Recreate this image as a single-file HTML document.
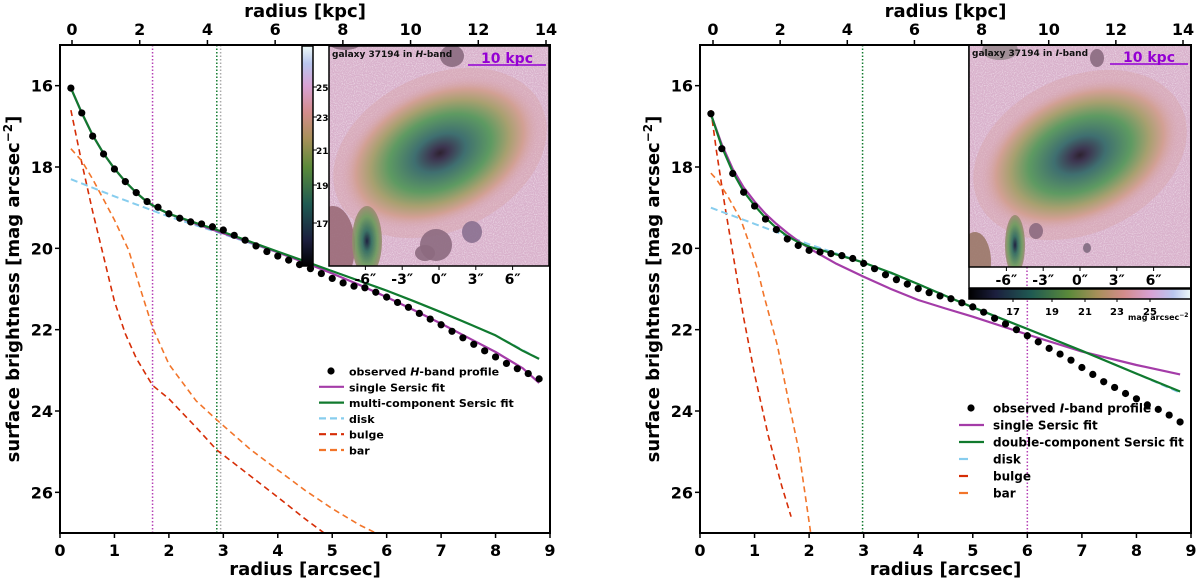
<!DOCTYPE html>
<html><head><meta charset="utf-8"><style>
body{margin:0;background:#fff}
svg{display:block;font-family:"DejaVu Sans","Liberation Sans",sans-serif;font-weight:bold}
</style></head><body>
<svg id="fig" width="1200" height="580" viewBox="0 0 1200 580" xmlns="http://www.w3.org/2000/svg">
<defs>
<linearGradient id="cbV" x1="0" y1="1" x2="0" y2="0">
<stop offset="0" stop-color="#000"/><stop offset="0.12" stop-color="#1c1f3e"/><stop offset="0.28" stop-color="#1f5a52"/><stop offset="0.45" stop-color="#5b8a3a"/><stop offset="0.58" stop-color="#a8905a"/><stop offset="0.7" stop-color="#d48c8c"/><stop offset="0.82" stop-color="#d8a2d4"/><stop offset="0.92" stop-color="#b9c6ee"/><stop offset="1" stop-color="#eefaf8"/></linearGradient>
<linearGradient id="cbH" x1="0" y1="0" x2="1" y2="0">
<stop offset="0" stop-color="#000"/><stop offset="0.12" stop-color="#1c1f3e"/><stop offset="0.28" stop-color="#1f5a52"/><stop offset="0.45" stop-color="#5b8a3a"/><stop offset="0.58" stop-color="#a8905a"/><stop offset="0.7" stop-color="#d48c8c"/><stop offset="0.82" stop-color="#d8a2d4"/><stop offset="0.92" stop-color="#b9c6ee"/><stop offset="1" stop-color="#eefaf8"/></linearGradient>
<radialGradient id="gal">
<stop offset="0" stop-color="#2e2230"/><stop offset="0.08" stop-color="#3d3550"/><stop offset="0.25" stop-color="#3f6f70"/><stop offset="0.5" stop-color="#5e9a62"/><stop offset="0.68" stop-color="#a8a070"/><stop offset="0.82" stop-color="#d2a094"/><stop offset="1" stop-color="#d8aac0" stop-opacity="0"/></radialGradient>
<radialGradient id="blob"><stop offset="0" stop-color="#0a1030"/><stop offset="0.3" stop-color="#2a6a5a"/><stop offset="0.7" stop-color="#6a9a5a"/><stop offset="1" stop-color="#9a8a70"/></radialGradient>
<filter id="noise" x="0" y="0" width="100%" height="100%"><feTurbulence type="fractalNoise" baseFrequency="0.9" numOctaves="1" seed="3"/><feColorMatrix values="0 0 0 0 1  0 0 0 0 1  0 0 0 0 1  0 0 0 1.6 -0.7"/></filter>
<clipPath id="clipL"><rect x="60" y="45" width="490" height="488"/></clipPath>
<clipPath id="clipR"><rect x="700" y="45" width="491" height="488"/></clipPath>
<clipPath id="imgL"><rect x="329" y="46" width="220" height="220"/></clipPath>
<clipPath id="imgR"><rect x="969" y="45" width="222" height="222"/></clipPath>
</defs>
<g id="root"></g>
</svg>
<script>
// ---- Left panel (H-band) data ----
const hObsR=[0.2,0.4,0.6,0.8,1.0,1.2,1.4,1.6,1.8,2.0,2.2,2.4,2.6,2.8,3.0,3.2,3.4,3.6,3.8,4.0,4.2,4.4,4.6,4.8,5.0,5.2,5.4,5.6,5.8,6.0,6.2,6.4,6.6,6.8,7.0,7.2,7.4,7.6,7.8,8.0,8.2,8.4,8.6,8.8];
const hObsMu=[16.06,16.67,17.24,17.68,18.05,18.36,18.63,18.85,18.99,19.15,19.26,19.35,19.4,19.47,19.55,19.68,19.8,19.94,20.08,20.19,20.29,20.4,20.5,20.62,20.74,20.85,20.93,20.97,21.08,21.2,21.33,21.45,21.6,21.74,21.88,22.04,22.2,22.36,22.52,22.67,22.83,22.96,23.08,23.21];
const hSingleR=[0.2,0.4,0.6,0.8,1.0,1.2,1.4,1.6,1.8,2.0,2.5,3.0,3.5,4.0,4.5,5.0,5.5,6.0,6.5,7.0,7.5,8.0,8.5,8.8];
const hSingleMu=[16.06,16.67,17.22,17.67,18.04,18.36,18.63,18.86,19.02,19.15,19.4,19.63,19.86,20.1,20.35,20.62,20.9,21.2,21.52,21.85,22.2,22.55,22.95,23.31];
const hMultiR=[0.2,0.4,0.6,0.8,1.0,1.2,1.4,1.6,1.8,2.0,2.5,3.0,3.5,4.0,4.5,5.0,5.5,6.0,6.5,7.0,7.5,8.0,8.5,8.8];
const hMultiMu=[16.06,16.67,17.22,17.67,18.04,18.36,18.63,18.86,19.02,19.15,19.38,19.6,19.84,20.08,20.32,20.56,20.8,21.04,21.3,21.57,21.85,22.14,22.52,22.72];
const hDiskR=[0.2,1.0,2.0,3.0,4.0,5.0,6.0,7.0,8.0,8.8];
const hDiskMu=[18.3,18.72,19.22,19.65,20.1,20.56,21.04,21.57,22.14,22.72];
const hBulgeR=[0.2,0.4,0.6,0.8,1.0,1.2,1.4,1.6,1.7,2.0,2.5,2.88,3.5,4.0,4.5,4.85];
const hBulgeMu=[16.6,17.9,19.1,20.2,21.3,22.1,22.7,23.15,23.37,23.7,24.4,24.96,25.6,26.12,26.65,27.0];
const hBarR=[0.2,0.4,0.6,0.8,1.0,1.26,1.5,1.7,2.0,2.5,2.88,3.5,4.0,4.5,5.0,5.5,5.8];
const hBarMu=[17.55,17.85,18.3,18.8,19.3,20.04,21.1,21.95,22.85,23.75,24.22,24.95,25.45,25.95,26.4,26.8,27.0];
// ---- Right panel (I-band) data ----
const iObsR=[0.2,0.4,0.6,0.8,1.0,1.2,1.4,1.6,1.8,2.0,2.2,2.4,2.6,2.8,3.0,3.2,3.4,3.6,3.8,4.0,4.2,4.4,4.6,4.8,5.0,5.2,5.4,5.6,5.8,6.0,6.2,6.4,6.6,6.8,7.0,7.2,7.4,7.6,7.8,8.0,8.2,8.4,8.6,8.8];
const iObsMu=[16.69,17.55,18.16,18.62,18.96,19.28,19.54,19.77,19.93,20.05,20.09,20.13,20.18,20.25,20.37,20.5,20.65,20.77,20.88,20.99,21.09,21.17,21.24,21.34,21.44,21.57,21.72,21.86,22.0,22.15,22.3,22.46,22.6,22.75,22.93,23.1,23.28,23.42,23.57,23.7,23.85,23.96,24.1,24.27];
const iSingleR=[0.2,0.4,0.6,0.8,1.0,1.2,1.4,1.6,1.8,2.0,2.5,3.0,3.5,4.0,4.5,5.0,6.0,7.0,8.0,8.8];
const iSingleMu=[16.7,17.45,18.05,18.5,18.85,19.15,19.4,19.62,19.82,20.0,20.38,20.7,21.0,21.27,21.48,21.68,22.12,22.54,22.87,23.1];
const iMultiR=[0.2,0.4,0.6,0.8,1.0,1.2,1.4,1.6,1.8,2.0,2.5,3.0,3.5,4.0,4.5,5.0,6.0,7.0,8.0,8.8];
const iMultiMu=[16.7,17.5,18.12,18.6,18.95,19.25,19.5,19.7,19.85,19.96,20.15,20.35,20.6,20.88,21.17,21.45,21.98,22.52,23.08,23.52];
const iDiskR=[0.2,1.0,2.0,3.0,4.0,5.0,6.0,7.0,8.0,8.8];
const iDiskMu=[19.0,19.4,19.9,20.35,20.88,21.45,21.98,22.52,23.08,23.55];
const iBulgeR=[0.2,0.3,0.45,0.6,0.8,1.0,1.25,1.5,1.67];
const iBulgeMu=[16.6,17.6,18.9,20.1,21.7,23.1,24.6,25.85,26.6];
const iBarR=[0.2,0.3,0.5,0.75,0.9,1.05,1.17,1.42,1.63,1.81,2.03];
const iBarMu=[18.15,18.3,18.7,19.3,19.87,20.5,21.15,22.4,23.8,24.96,27.0];
// ---- axis ticks ----
const xTicks=[0,1,2,3,4,5,6,7,8,9];
const yTicks=[16,18,20,22,24,26];
const kpcTicks=[0,2,4,6,8,10,12,14];
const cbTicks=[17,19,21,23,25];

const NS='http://www.w3.org/2000/svg';
const root=document.getElementById('root');
function mk(tag,attrs,parent,text){const e=document.createElementNS(NS,tag);for(const k in attrs)e.setAttribute(k,attrs[k]);if(text!==undefined)e.textContent=text;(parent||root).appendChild(e);return e;}

function panel(P){
  const X=a=>P.x0+(a-0)*(P.x1-P.x0)/9;
  const Y=m=>45+(m-15)*(533-45)/12;
  const g=mk('g',{});
  
  
  const plot=mk('g',{'clip-path':'url(#'+P.clip+')'},g);
  
  
  P.vlines.forEach(v=>{const l=mk('line',{x1:X(v.r),x2:X(v.r),y1:45,y2:533,stroke:v.c,'stroke-width':1.5,'stroke-dasharray':'1.5,2'},plot);
    
    });
  function line(rs,ms,col,w,dash,name){const d=rs.map((r,i)=>(i?'L':'M')+X(r).toFixed(1)+','+Y(ms[i]).toFixed(1)).join('');
    const p=mk('path',{d:d,fill:'none',stroke:col,'stroke-width':w,'stroke-dasharray':dash||'none','stroke-linejoin':'round'},plot);
    
    }
  line(P.bulR,P.bulM,'#d62d06',1.6,'6,4',P.id+'-bulge-line');
  line(P.barR,P.barM,'#f2752a',1.6,'6,4',P.id+'-bar-line');
  line(P.diskR,P.diskM,'#87cdee',2,'7,4',P.id+'-disk-line');
  line(P.sinR,P.sinM,'#a43ca8',2.2,null,P.id+'-single-sersic-line');
  line(P.mulR,P.mulM,'#117a2e',2.2,null,P.id+'-multi-sersic-line');
  P.obsR.forEach((r,i)=>{const c=mk('circle',{cx:X(r),cy:Y(P.obsM[i]),r:3.6,fill:'#000'},plot);
    
    });
  P.inset(g);
  const fr=mk('rect',{x:P.x0,y:45,width:P.x1-P.x0,height:488,fill:'none',stroke:'#000','stroke-width':2},g);
  
  
  xTicks.forEach(t=>{mk('line',{x1:X(t),x2:X(t),y1:533,y2:538,stroke:'#000','stroke-width':1.5},g);
    const tx=mk('text',{x:X(t),y:556,'font-size':16,'text-anchor':'middle'},g,String(t));
    
    });
  yTicks.forEach(t=>{mk('line',{x1:P.x0-5,x2:P.x0,y1:Y(t),y2:Y(t),stroke:'#000','stroke-width':1.5},g);
    const tx=mk('text',{x:P.x0-7,y:Y(t)+6,'font-size':16,'text-anchor':'end'},g,String(t));
    
    });
  kpcTicks.forEach(t=>{const xx=P.k0+t*(P.k14-P.k0)/14;mk('line',{x1:xx,x2:xx,y1:40,y2:45,stroke:'#000','stroke-width':1.5},g);
    const tx=mk('text',{x:xx,y:35,'font-size':16,'text-anchor':'middle'},g,String(t));
    
    });
  const cx=(P.x0+P.x1)/2;
  const xl=mk('text',{x:cx,y:575,'font-size':18,'text-anchor':'middle'},g,'radius [arcsec]');
  
  
  const tl=mk('text',{x:cx,y:17,'font-size':18,'text-anchor':'middle'},g,'radius [kpc]');
  
  
  const yl=mk('text',{x:0,y:0,'font-size':18,'text-anchor':'middle',transform:'translate('+(P.x0-41)+',289) rotate(-90)'},g);
  
  
  yl.innerHTML='surface brightness [mag arcsec<tspan dy="-7" font-size="12">−2</tspan><tspan dy="7">]</tspan>';
  const lg=mk('g',{},g);
  
  
  const items=[['dot','#000',P.obsLabel],['line','#a43ca8','single Sersic fit'],['line','#117a2e',P.mulLabel],['dash','#87cdee','disk'],['dash','#d62d06','bulge'],['dash','#f2752a','bar']];
  items.forEach((it,i)=>{const y=P.ly+i*P.lstep;
    if(it[0]==='dot')mk('circle',{cx:P.lx+12,cy:y,r:3.6,fill:'#000'},lg);
    else mk('line',{x1:P.lx,x2:P.lx+25,y1:y,y2:y,stroke:it[1],'stroke-width':2.2,'stroke-dasharray':it[0]==='dash'?P.ldash:'none'},lg);
    const t=mk('text',{x:P.tx,y:y+4.5,'font-size':P.lfs},lg);
    
    
    t.innerHTML=it[2];});
}

function galaxy(g,clip,x,y,w,h,cx,cy,band,sources){
  const ig=mk('g',{'clip-path':'url(#'+clip+')'},g);
  
  
  mk('rect',{x:x,y:y,width:w,height:h,fill:'#d9b2cc'},ig);
  mk('rect',{x:x,y:y,width:w,height:h,filter:'url(#noise)',opacity:0.8},ig);
  mk('ellipse',{cx:cx,cy:cy,rx:112,ry:78,fill:'#d7a3a8',opacity:0.45,transform:'rotate(-25 '+cx+' '+cy+')'},ig);
  mk('ellipse',{cx:cx,cy:cy,rx:108,ry:70,fill:'url(#gal)',transform:'rotate(-25 '+cx+' '+cy+')'},ig);
  sources.forEach(s=>{mk('ellipse',{cx:s[0],cy:s[1],rx:s[2],ry:s[3],fill:s[4],opacity:0.9},ig);});
  mk('text',{x:x+3,y:y+11,'font-size':9,fill:'#111'},ig).innerHTML='galaxy 37194 in <tspan font-style="italic">'+band+'</tspan>-band';
  const s=mk('text',{x:x+w-42,y:y+17,'font-size':14,fill:'#9400d3','text-anchor':'middle'},g,'10 kpc');
  
  
  mk('line',{x1:x+w-81,x2:x+w-3,y1:y+19,y2:y+19,stroke:'#9400d3','stroke-width':1.5},g);
  mk('rect',{x:x,y:y,width:w,height:h,fill:'none',stroke:'#000','stroke-width':1.5},g);
  ['-6″','-3″','0″','3″','6″'].forEach((t,i)=>{const xx=x+w/2+(i-2)*36.8;
    mk('line',{x1:xx,x2:xx,y1:y+h,y2:y+h+4,stroke:'#000','stroke-width':1},g);
    const tx=mk('text',{x:xx,y:y+h+18,'font-size':14,'text-anchor':'middle'},g,t);
    
    });
}

panel({id:'h-band',x0:60,x1:550,clip:'clipL',k0:72,k14:546,
  obsR:hObsR,obsM:hObsMu,sinR:hSingleR,sinM:hSingleMu,mulR:hMultiR,mulM:hMultiMu,diskR:hDiskR,diskM:hDiskMu,bulR:hBulgeR,bulM:hBulgeMu,barR:hBarR,barM:hBarMu,
  vlines:[{r:1.7,c:'#b540b5',name:'single-sersic-re-line'},{r:2.88,c:'#117a2e',name:'multi-sersic-re-line'},{r:2.95,c:'#aaaaaa',name:'reference-line'}],
  obsLabel:'observed <tspan font-style="italic">H</tspan>-band profile',mulLabel:'multi-component Sersic fit',lx:319,tx:349,lfs:11,ly:371,lstep:15.8,ldash:'7,4',
  inset:function(g){
    galaxy(g,'imgL',329,46,220,220,440,153,'H',[[333,246,22,40,'#9a6a78'],[367,241,15,35,'url(#blob)'],[436,245,16,16,'#8c6a80'],[425,253,10,8,'#8c6a80'],[472,232,10,11,'#8a7090'],[452,56,12,11,'#8a6a80'],[345,44,15,6,'#8a6a80']]);
    const cb=mk('rect',{x:302,y:46,width:11,height:220,fill:'url(#cbV)',stroke:'#000','stroke-width':1.5},g);
    
    
    const cy=[223,185,150,117,87];
    cbTicks.forEach((t,i)=>{mk('line',{x1:313,x2:317,y1:cy[i],y2:cy[i],stroke:'#000'},g);
      const tx=mk('text',{x:316,y:cy[i]+4,'font-size':9},g,String(t));
      
      });
  }});

panel({id:'i-band',x0:700,x1:1191,clip:'clipR',k0:713,k14:1183,
  obsR:iObsR,obsM:iObsMu,sinR:iSingleR,sinM:iSingleMu,mulR:iMultiR,mulM:iMultiMu,diskR:iDiskR,diskM:iDiskMu,bulR:iBulgeR,bulM:iBulgeMu,barR:iBarR,barM:iBarMu,
  vlines:[{r:2.98,c:'#117a2e',name:'multi-sersic-re-line'},{r:6.0,c:'#b540b5',name:'single-sersic-re-line'}],
  obsLabel:'observed <tspan font-style="italic">I</tspan>-band profile',mulLabel:'double-component Sersic fit',lx:959,tx:993,lfs:12,ly:408,lstep:17,ldash:'9,30',
  inset:function(g){
    const bg=mk('rect',{x:969,y:45,width:222,height:243,fill:'#fff',stroke:'#000','stroke-width':1.5},g);
    
    
    mk('line',{x1:1027,x2:1027,y1:267,y2:288,stroke:'#b540b5','stroke-width':1.5,'stroke-dasharray':'1.5,2'},g);
    galaxy(g,'imgR',969,45,222,222,1080,155,'I',[[975,262,16,30,'#9a7868'],[1015,245,10,30,'url(#blob)'],[1036,231,7,8,'#8c6a80'],[1087,248,4,5,'#806a80'],[1097,58,7,9,'#8a6a80'],[1000,50,18,10,'#9a8a90']]);
    const cb=mk('rect',{x:969,y:289,width:222,height:10,fill:'url(#cbH)',stroke:'#000','stroke-width':1.5},g);
    
    
    const cx=[1013,1052,1085,1117,1150];
    cbTicks.forEach((t,i)=>{mk('line',{x1:cx[i],x2:cx[i],y1:299,y2:302,stroke:'#000'},g);
      const tx=mk('text',{x:cx[i],y:315,'font-size':10,'text-anchor':'middle'},g,String(t));
      
      });
    mk('text',{x:1128,y:320,'font-size':8},g).innerHTML='mag arcsec<tspan dy="-3" font-size="6">−2</tspan>';
  }});
</script>
</body></html>
